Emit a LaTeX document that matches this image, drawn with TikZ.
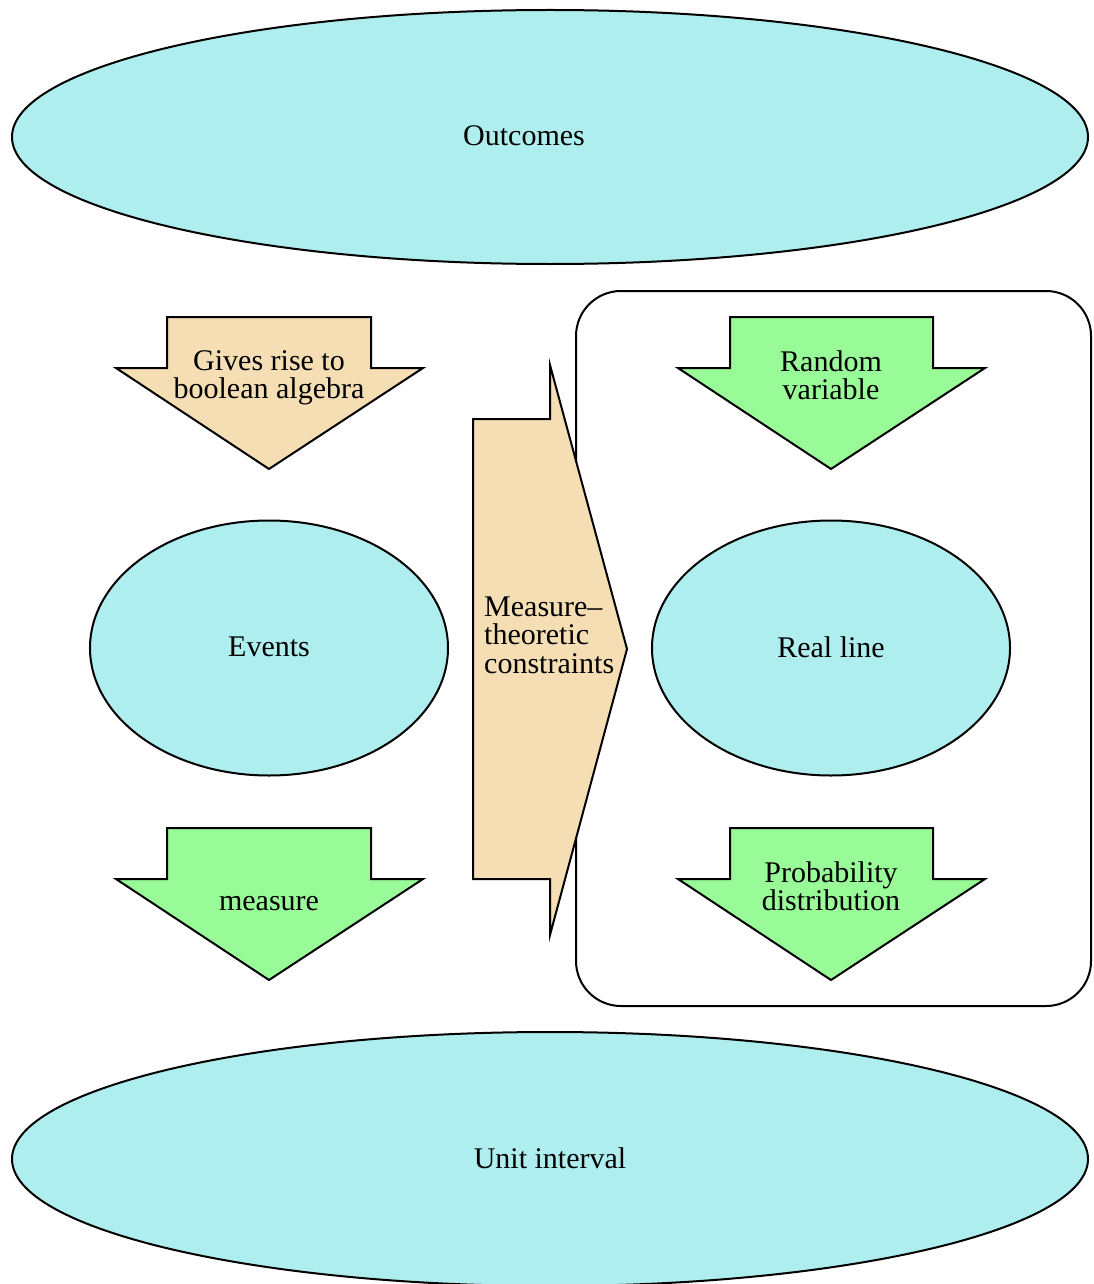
\documentclass[tikz,border=0pt]{standalone}
\usepackage{fontspec}
\setmainfont{Liberation Serif}
\definecolor{pturq}{HTML}{AFEEEE}
\definecolor{pwheat}{HTML}{F5DEB3}
\definecolor{pgreen}{HTML}{98FB98}
\begin{document}
\begin{tikzpicture}[x=1pt,y=-1pt,
  shp/.style={draw=black,line width=2pt,line join=miter},
  lbl/.style={font=\fontsize{30}{28.5}\selectfont,align=center,inner sep=0pt},
  lbll/.style={font=\fontsize{30}{28.5}\selectfont,align=left,inner sep=0pt}]
\useasboundingbox (0,0) rectangle (1093,1284);
% ellipses
\draw[shp,fill=pturq] (550,137) ellipse [x radius=538,y radius=127];
\node[lbl] (outcomes) at (524,136) {Outcomes};
\draw[shp,fill=pturq] (550,1159) ellipse [x radius=538,y radius=127];
\node[lbl] (unit) at (550,1158) {Unit interval};
\draw[shp,fill=pturq] (269,648) ellipse [x radius=179,y radius=127.5];
\node[lbl] (events) at (269,647) {Events};
\draw[shp,fill=pturq] (831,648) ellipse [x radius=179,y radius=127.5];
\node[lbl] (real) at (831,647) {Real line};
% rounded box
\draw[shp,rounded corners=45pt] (576,291) rectangle (1091,1006);
% down arrows
\draw[shp,fill=pwheat] (167,317) -- (371,317) -- (371,368) -- (423,368) -- (269,469) -- (116,368) -- (167,368) -- cycle;
\node[lbl] (gives) at (269,378) {Gives rise to\\boolean algebra};
\draw[shp,fill=pgreen] (730,317) -- (933,317) -- (933,368) -- (985,368) -- (831,469) -- (678,368) -- (730,368) -- cycle;
\node[lbl] (rv) at (831,375) {Random\\variable};
\draw[shp,fill=pgreen] (167,828) -- (371,828) -- (371,879) -- (423,879) -- (269,980) -- (116,879) -- (167,879) -- cycle;
\node[lbl] (measure) at (269,904) {measure};
\draw[shp,fill=pgreen] (730,828) -- (933,828) -- (933,879) -- (985,879) -- (831,980) -- (678,879) -- (730,879) -- cycle;
\node[lbl] (pd) at (831,886) {Probability\\distribution};
% right arrow
\draw[shp,fill=pwheat] (473,419) -- (550,419) -- (550,365) -- (627,649) -- (550,935) -- (550,879) -- (473,879) -- cycle;
\node[lbll,anchor=west] (mtc) at (484,635) {Measure--\\theoretic\\constraints};
\end{tikzpicture}
\end{document}
